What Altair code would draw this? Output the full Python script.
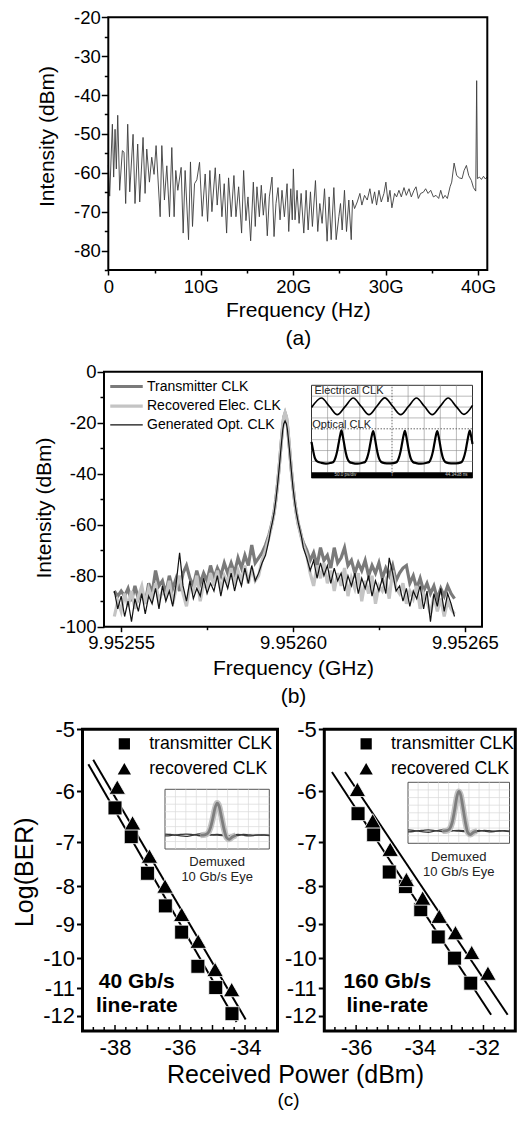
import altair as alt
import numpy as np
import pandas as pd

FONT = "Liberation Sans"

# ======================= (a) electrical spectrum =======================
a_freq_g = [
    0.00, 0.15, 0.44, 0.58, 0.73, 0.87, 1.02, 1.23, 1.52, 1.70,
    1.88, 2.10, 2.32, 2.68, 2.89, 3.18, 3.40, 3.76, 3.98, 4.16,
    4.45, 4.70, 4.95, 5.17, 5.61, 5.79, 6.07, 6.33, 6.62, 6.87,
    7.12, 7.30, 7.52, 7.88, 8.10, 8.31, 8.68, 8.89, 9.11, 9.33,
    9.58, 9.87, 10.16, 10.48, 10.74, 10.99, 11.21, 11.57, 11.78, 12.04,
    12.29, 12.54, 12.80, 13.01, 13.30, 13.59, 13.81, 14.10, 14.42, 14.64,
    14.89, 15.11, 15.40, 15.69, 15.90, 16.08, 16.34, 16.55, 16.77, 16.98,
    17.20, 17.42, 17.71, 17.93, 18.14, 18.36, 18.58, 18.79, 19.05, 19.34,
    19.52, 19.74, 19.90, 20.02, 20.20, 20.42, 20.64, 20.86, 21.15, 21.40,
    21.62, 21.87, 22.08, 22.41, 22.66, 22.88, 23.13, 23.39, 23.67, 23.89,
    24.11, 24.40, 24.65, 24.94, 25.12, 25.30, 25.55, 25.77, 26.02, 26.28,
    26.42, 26.64, 26.93, 27.22, 27.43, 27.72, 28.01, 28.30, 28.55, 28.81,
    29.02, 29.28, 29.53, 29.82, 30.03, 30.25, 30.47, 30.68, 30.97, 31.19,
    31.44, 31.70, 31.99, 32.24, 32.53, 32.78, 33.07, 33.29, 33.54, 33.79,
    34.08, 34.33, 34.59, 34.88, 35.17, 35.45, 35.74, 35.96, 36.21, 36.43,
    36.68, 36.97, 37.15, 37.41, 37.69, 37.98, 38.27, 38.49, 38.74, 38.99,
    39.28, 39.50, 39.75, 39.85, 39.93, 40.15, 40.37, 40.59, 40.80, 41.00,
]
a_intensity_dbm = [
    -58.0, -66.0, -47.5, -61.1, -48.8, -59.0, -45.2, -64.5, -54.3, -54.7,
    -67.9, -47.5, -64.9, -50.1, -67.9, -52.6, -67.5, -50.9, -65.3, -53.9,
    -62.4, -56.0, -60.4, -53.0, -71.3, -53.0, -67.0, -58.2, -71.3, -53.5,
    -71.3, -59.4, -64.5, -58.6, -75.5, -59.4, -77.2, -57.2, -73.8, -62.8,
    -61.8, -57.3, -71.2, -60.3, -72.5, -59.4, -70.0, -58.7, -68.3, -60.3,
    -71.3, -62.8, -75.5, -61.3, -71.3, -60.7, -71.3, -63.6, -75.5, -59.4,
    -72.3, -66.2, -77.5, -62.4, -73.8, -63.6, -71.3, -63.2, -70.9, -65.3,
    -76.2, -66.2, -61.1, -76.4, -67.9, -63.8, -72.1, -64.5, -71.3, -62.8,
    -75.1, -64.1, -72.1, -59.0, -72.1, -64.5, -73.0, -65.3, -75.5, -64.5,
    -74.7, -64.9, -73.8, -62.0, -75.1, -67.9, -73.0, -64.1, -77.6, -66.2,
    -77.2, -63.8, -77.2, -71.3, -67.9, -74.7, -64.5, -75.1, -67.0, -77.2,
    -67.0, -69.2, -67.5, -65.3, -68.3, -65.8, -67.0, -64.1, -67.9, -64.9,
    -68.3, -64.5, -67.5, -65.3, -62.4, -67.5, -64.5, -69.0, -65.3, -66.2,
    -64.5, -66.2, -63.8, -65.8, -64.1, -66.2, -64.5, -63.6, -66.6, -65.3,
    -65.0, -64.1, -65.3, -64.5, -66.2, -65.8, -66.6, -64.5, -66.6, -65.8,
    -66.6, -63.6, -62.4, -57.5, -60.7, -61.3, -61.5, -59.4, -58.1, -60.7,
    -62.0, -63.8, -64.7, -36.3, -61.5, -61.1, -61.7, -60.9, -61.6, -61.0,
]

# ======================= (b) clock spectra =======================
b_center_ghz = 9.95255
b_offset_khz = (list(range(-2, 44))
                + [43.5, 44, 44.5, 45, 45.5, 46, 46.5, 47, 47.3, 47.7,
                   48.1, 48.4, 49, 49.5, 50, 50.5, 51, 51.5, 52, 52.5]
                + list(range(53, 98)))
b_series = ["Transmitter CLK", "Recovered Elec. CLK", "Generated Opt. CLK"]
b_transmitter = (
    [-86, -88, -86, -88, -85, -90, -84, -89, -86, -91, -83, -87, -78, -84, -82, -87,
     -80, -85, -81, -86, -79, -76, -81, -84, -78, -83, -79, -82, -76, -81, -77, -80,
     -75, -79, -75, -79, -73, -77, -72, -76, -68, -75, -73, -71, -68, -64]
    + [-61.5, -58.5, -55, -50, -44, -37, -29, -21.5, -18, -16.3,
       -18, -21.5, -30.5, -38.5, -45, -51, -55.5, -59.5, -62, -65]
    + [-67, -70, -74, -71, -76, -69, -74, -72, -77, -69, -75, -73, -69, -76, -74, -79,
       -75, -78, -74, -80, -76, -79, -75, -81, -77, -80, -76, -82, -79, -77, -76, -83,
       -80, -85, -81, -86, -83, -87, -84, -89, -85, -88, -84, -87, -89]
)
b_recovered = (
    [-96, -90, -94, -87, -92, -86, -93, -88, -84, -91, -85, -89, -83, -90, -86, -88,
     -82, -91, -85, -80, -87, -92, -84, -86, -80, -90, -83, -85, -79, -84, -78, -86,
     -80, -83, -77, -84, -78, -82, -76, -83, -77, -82, -80, -74, -70, -65]
    + [-62, -59, -55.5, -50.5, -44.5, -37, -29, -21, -17.8, -16,
       -17.8, -21, -30, -38, -45, -51, -56, -60, -62.5, -65.5]
    + [-68, -72, -79, -84, -76, -81, -75, -83, -78, -86, -79, -84, -77, -88, -81, -85,
       -79, -90, -82, -87, -80, -91, -84, -86, -82, -89, -78, -85, -87, -83, -91, -86,
       -89, -84, -93, -87, -90, -95, -88, -94, -89, -96, -90, -93, -95]
)
b_generated = (
    [-86, -93, -88, -96, -90, -98, -89, -94, -87, -95, -88, -91, -85, -93, -84, -90,
     -86, -92, -83, -71, -84, -90, -82, -89, -85, -88, -81, -87, -83, -86, -80, -88,
     -81, -85, -79, -86, -80, -84, -77, -83, -76, -82, -79, -75, -72, -66]
    + [-62, -59, -55.5, -50.5, -44.5, -37.5, -30, -23, -20.5, -19.3,
       -20.5, -23, -31, -38.5, -45.5, -51, -55.5, -59, -62, -65]
    + [-69, -73, -78, -74, -81, -75, -80, -76, -83, -77, -82, -79, -86, -80, -84, -79,
       -87, -81, -85, -80, -88, -82, -86, -81, -87, -73, -79, -86, -84, -90, -85, -92,
       -86, -89, -84, -93, -86, -98, -87, -92, -85, -94, -87, -91, -96]
)

# oscilloscope inset (time / level in screen divisions)
scope_sine_t = [0, 0.62, 1.11, 1.6, 2.1, 2.59, 3.08, 3.57, 4.06, 4.55, 5.04,
                5.54, 6.03, 6.52, 7.01, 7.5, 7.99, 8.49, 8.98, 9.47, 10]
scope_sine_v = [5.95, 6.83, 6.07, 5.3, 6.07, 6.83, 6.07, 5.3, 6.07, 6.85, 6.07,
                5.3, 6.07, 6.83, 6.07, 5.3, 6.07, 6.83, 6.07, 5.32, 6.15]
scope_pulse_t = [0, 0.1, 0.2, 0.35, 0.6, 0.9,
                 1.16, 1.36, 1.49, 1.59, 1.69, 1.78, 1.86, 1.94, 2.03, 2.13, 2.23, 2.36, 2.56, 2.85,
                 3.13, 3.33, 3.46, 3.56, 3.66, 3.75, 3.83, 3.91, 4.0, 4.1, 4.2, 4.33, 4.53, 4.82,
                 5.1, 5.3, 5.43, 5.53, 5.63, 5.72, 5.8, 5.88, 5.97, 6.07, 6.17, 6.3, 6.5, 6.8,
                 7.11, 7.31, 7.44, 7.54, 7.64, 7.73, 7.81, 7.89, 7.98, 8.08, 8.18, 8.31, 8.51, 8.82,
                 9.13, 9.33, 9.46, 9.56, 9.66, 9.75, 9.83, 9.91, 10.0]
scope_pulse_v = [2.8, 2.0, 1.35, 1.0, 0.88, 0.8,
                 0.85, 0.95, 1.35, 1.9, 2.7, 3.4, 3.85, 3.35, 2.6, 1.8, 1.25, 0.95, 0.85, 0.8,
                 0.86, 0.95, 1.35, 1.9, 2.7, 3.4, 3.8, 3.35, 2.6, 1.8, 1.25, 0.95, 0.85, 0.82,
                 0.85, 0.95, 1.35, 1.9, 2.7, 3.4, 3.82, 3.35, 2.6, 1.8, 1.25, 0.95, 0.85, 0.8,
                 0.86, 0.95, 1.35, 1.9, 2.7, 3.4, 3.8, 3.35, 2.6, 1.8, 1.25, 0.95, 0.85, 0.82,
                 0.85, 0.95, 1.35, 1.9, 2.7, 3.4, 3.83, 3.35, 2.6]

# ======================= (c) BER curves =======================
c40_tx_p = [-38.0, -37.5, -37.0, -36.45, -35.95, -35.45, -34.9, -34.4]
c40_tx_ber = [-6.31, -6.88, -7.69, -8.5, -9.22, -10.26, -10.97, -11.92]
c40_rx_p = [-37.93, -37.46, -36.94, -36.46, -35.95, -35.44, -34.92, -34.41]
c40_rx_ber = [-5.94, -6.61, -7.31, -8.01, -8.74, -9.5, -10.38, -11.06]
c40_fit_tx_p = [-38.82, -34.26]
c40_fit_tx_ber = [-5.54, -12.24]
c40_fit_rx_p = [-38.67, -33.98]
c40_fit_rx_ber = [-5.47, -12.14]

c160_tx_p = [-35.94, -35.45, -34.96, -34.45, -33.97, -33.42, -32.91, -32.4]
c160_tx_ber = [-6.42, -6.84, -7.66, -8.01, -8.6, -9.36, -10.0, -10.82]
c160_rx_p = [-35.96, -35.48, -34.93, -34.42, -33.91, -33.39, -32.88, -32.37, -31.86]
c160_rx_ber = [-5.98, -6.57, -7.16, -7.85, -8.31, -8.79, -9.25, -9.84, -10.5]
c160_fit_tx_p = [-36.76, -31.76]
c160_fit_tx_ber = [-5.67, -11.96]
c160_fit_rx_p = [-36.35, -31.24]
c160_fit_rx_ber = [-5.67, -11.96]

c_series = ["transmitter CLK", "recovered CLK"]
c_yticks = [-5, -6, -7, -8, -9, -10, -11, -12]

# eye-diagram insets (time / level in divisions)
eye_u = [0, 0.5, 1, 1.5, 2, 2.5, 3, 3.5, 4, 4.5, 5, 5.5, 6, 6.5, 7, 7.5, 8, 8.5, 9, 9.5, 10]
eye40_base1 = [1.75, 1.8, 1.9, 1.95, 2.0, 1.95, 1.85, 1.75, 1.8, 1.9, 1.95, 1.9, 1.8, 1.75, 1.8, 1.95, 1.9, 1.85, 1.85, 1.9, 1.85]
eye40_base2 = [2.0, 1.95, 1.85, 1.75, 1.7, 1.8, 1.95, 2.05, 2.0, 1.9, 1.85, 1.8, 1.75, 1.85, 1.95, 1.85, 1.75, 1.8, 1.9, 1.85, 1.8]
eye160_base1 = [1.5, 1.55, 1.65, 1.7, 1.75, 1.7, 1.6, 1.5, 1.55, 1.65, 1.7, 1.65, 1.55, 1.5, 1.55, 1.7, 1.65, 1.6, 1.6, 1.65, 1.6]
eye160_base2 = [1.75, 1.7, 1.6, 1.5, 1.45, 1.55, 1.7, 1.8, 1.75, 1.65, 1.6, 1.55, 1.5, 1.6, 1.7, 1.6, 1.5, 1.55, 1.65, 1.6, 1.55]
eye_pulse_u = [3.4, 3.8, 4.1, 4.35, 4.6, 4.8, 5.0, 5.2, 5.4, 5.65, 5.9, 6.15, 6.45, 6.8]
eye40_pulse = [1.85, 1.9, 2.1, 2.8, 4.2, 5.5, 6.15, 5.7, 4.4, 2.7, 1.55, 1.3, 1.6, 1.85]
eye160_pulse = [1.6, 1.65, 1.9, 2.7, 4.4, 6.0, 6.8, 6.3, 4.8, 2.8, 1.4, 1.15, 1.45, 1.6]

SQUARE = "M-0.95,-0.95L0.95,-0.95L0.95,0.95L-0.95,0.95Z"
TRIANGLE = "M0,-1.05L1.12,0.9L-1.12,0.9Z"

# ---------------- canvas geometry (pixels inside the drawing area) ----------------
VW, VH = 509, 1102
A_X, A_Y = [100.3, 479.3], [262.0, 9.3]
B_X, B_Y = [96.0, 474.0], [618.7, 363.7]
CS1, CS2 = 0, -4  # small left shift of the right (c) panel so that it fits the page width
C1_X = [74.5 + CS1, 269.5 + CS1]
C2_X = [320.3 + CS2, 511.3 + CS2]
C_Y = [1023.0, 721.3]


def axis(**kw):
    base = dict(domain=False, grid=False, labelFont=FONT, titleFont=FONT,
                labelColor="black", titleColor="black", tickColor="black",
                titleFontWeight="normal", labelFlush=False, labelOverlap=False)
    base.update(kw)
    return alt.Axis(**base)


def enc(ch, field, scale, ax):
    cls = alt.X if ch == "x" else alt.Y
    return cls(field, type="quantitative", scale=scale, axis=ax)


def frame(xdom, ydom, sx, sy, ax_x, ax_y, width):
    df = pd.DataFrame({"fx0": [xdom[0]], "fx1": [xdom[1]], "fy0": [ydom[0]], "fy1": [ydom[1]]})
    return (alt.Chart(df).mark_rect(fillOpacity=0, stroke="black", strokeWidth=width)
            .encode(x=enc("x", "fx0", sx, ax_x), x2="fx1", y=enc("y", "fy0", sy, ax_y), y2="fy1"))


# ---------------- panel (a) ----------------
dfa = pd.DataFrame({"f": a_freq_g, "db": a_intensity_dbm})
sxa = alt.Scale(domain=[0, 41], range=A_X, nice=False, zero=False)
sya = alt.Scale(domain=[-85, -20], range=A_Y, nice=False, zero=False)
axa_x = axis(orient="bottom", offset=A_Y[0] - VH, values=list(range(0, 45, 5)),
             labelExpr="datum.value % 10 == 0 ? (datum.value == 0 ? '0' : datum.value + 'G') : ''",
             tickSize={"condition": {"test": "datum.value % 10 == 0", "value": 5}, "value": 3},
             tickWidth=1.5, labelFontSize=18.5, labelPadding=2,
             title=["Frequency (Hz)", "(a)"], titleFontSize=21, titleLineHeight=28, titlePadding=4)
axa_y = axis(orient="left", offset=-A_X[0], values=list(range(-85, -15, 5)),
             labelExpr="datum.value % 10 == 0 ? '' + datum.value : ''",
             tickSize={"condition": {"test": "datum.value % 10 == 0", "value": 7}, "value": 4},
             tickWidth=1.5, labelFontSize=18.5, labelPadding=1,
             title="Intensity (dBm)", titleFontSize=21, titlePadding=16, titleY=128)
panel_a = alt.layer(
    alt.Chart(dfa).mark_line(color="#3c3c3c", strokeWidth=0.9)
    .encode(x=enc("x", "f", sxa, axa_x), y=enc("y", "db", sya, axa_y)),
    frame([0, 41], [-85, -20], sxa, sya, axa_x, axa_y, 2),
)

# ---------------- panel (b) ----------------
rows = []
for name, vals in zip(b_series, [b_transmitter, b_recovered, b_generated]):
    for off, v in zip(b_offset_khz, vals):
        rows.append({"f": b_center_ghz + off * 1e-6, "db": v, "series": name})
dfb = pd.DataFrame(rows)

sxb = alt.Scale(domain=[9.952545, 9.952655], range=B_X, nice=False, zero=False)
syb = alt.Scale(domain=[-100, 0], range=B_Y, nice=False, zero=False)
major_b = "abs(datum.value*20000 - round(datum.value*20000)) < 0.01"
axb_x = axis(orient="bottom", offset=B_Y[0] - VH,
             values=[9.95255, 9.952575, 9.9526, 9.952625, 9.95265],
             labelExpr="(" + major_b + ") ? format(datum.value, '.5f') : ''",
             tickSize={"condition": {"test": major_b, "value": 5}, "value": 3},
             tickWidth=1.5, labelFontSize=18.5, labelPadding=2,
             title=["Frequency (GHz)", "(b)"], titleFontSize=21, titleLineHeight=28, titlePadding=5)
axb_y = axis(orient="left", offset=-B_X[0], values=list(range(-100, 5, 10)),
             labelExpr="datum.value % 20 == 0 ? '' + datum.value : ''",
             tickSize={"condition": {"test": "datum.value % 20 == 0", "value": 7}, "value": 4},
             tickWidth=1.5, labelFontSize=18.5, labelPadding=1,
             title="Intensity (dBm)", titleFontSize=21, titlePadding=4, titleY=499.5)
legend_b = alt.Legend(orient="none", legendX=110, legendY=370, title=None,
                      symbolType="M-2.5,0L2.5,0", symbolSize=169,
                      labelFontSize=14, labelOffset=12, rowPadding=3.7,
                      padding=0, labelColor="black", labelFont=FONT)
color_b = alt.Color("series:N", scale=alt.Scale(domain=b_series, range=["#7a7a7a", "#c4c4c4", "#111111"]),
                    legend=legend_b)
sw_b = alt.StrokeWidth("series:N", scale=alt.Scale(type="ordinal", domain=b_series, range=[3.2, 3.2, 1.2]),
                       legend=legend_b)
panel_b = alt.layer(
    *[alt.Chart(dfb).transform_filter(alt.datum.series == name)
      .mark_line().encode(x=enc("x", "f", sxb, axb_x), y=enc("y", "db", syb, axb_y),
                          color=color_b, strokeWidth=sw_b)
      for name in b_series],
    frame([9.952545, 9.952655], [-100, 0], sxb, syb, axb_x, axb_y, 2),
)

# oscilloscope inset
sx_s = alt.Scale(domain=[0, 10], range=[303.5, 464.5], nice=False, zero=False)
sy_s = alt.Scale(domain=[0, 8], range=[464.3, 377.3], nice=False, zero=False)


def sx(f):
    return enc("x", f, sx_s, None)


def sy(f):
    return enc("y", f, sy_s, None)


scope_box = pd.DataFrame({"x0": [0], "x1": [10], "y0": [-0.52], "y1": [8]})
scope_bar = pd.DataFrame({"x0": [0], "x1": [10], "y0": [-0.52], "y1": [0]})
gv = pd.DataFrame({"t": [1, 2, 3, 4, 6, 7, 8, 9], "y0": 0, "y1": 8})
gh = pd.DataFrame({"v": [1, 2, 3, 5, 6, 7], "x0": 0, "x1": 10})
gvc = pd.DataFrame({"t": [5], "y0": [0], "y1": [8]})
ghc = pd.DataFrame({"v": [4], "x0": [0], "x1": [10]})
sine_df = pd.DataFrame({"t": scope_sine_t, "v": scope_sine_v})
pulse_df = pd.DataFrame({"t": scope_pulse_t, "v": scope_pulse_v})
scope_lbl = pd.DataFrame({"t": [0.18, 0.05], "v": [7.5, 4.35], "label": ["Electrical CLK", "Optical CLK"]})
bar_lbl = pd.DataFrame({"t": [2.1, 5.0, 9.0], "v": [-0.26, -0.26, -0.26],
                        "label": ["50.0 ps/div", "T", "44.3438 ns"]})

scope = alt.layer(
    alt.Chart(scope_box).mark_rect(fill="white", stroke="#333", strokeWidth=1)
    .encode(x=sx("x0"), x2="x1", y=sy("y0"), y2="y1"),
    alt.Chart(gv).mark_rule(color="#8c8c8c", strokeWidth=0.6).encode(x=sx("t"), y=sy("y0"), y2="y1"),
    alt.Chart(gh).mark_rule(color="#8c8c8c", strokeWidth=0.6).encode(y=sy("v"), x=sx("x0"), x2="x1"),
    alt.Chart(gvc).mark_rule(color="#444", strokeWidth=0.8, strokeDash=[1.5, 1.5])
    .encode(x=sx("t"), y=sy("y0"), y2="y1"),
    alt.Chart(ghc).mark_rule(color="#444", strokeWidth=0.8, strokeDash=[1.5, 1.5])
    .encode(y=sy("v"), x=sx("x0"), x2="x1"),
    alt.Chart(sine_df).mark_line(color="black", strokeWidth=1.7, interpolate="monotone")
    .encode(x=sx("t"), y=sy("v")),
    alt.Chart(pulse_df).mark_line(color="black", strokeWidth=2.2, interpolate="monotone")
    .encode(x=sx("t"), y=sy("v")),
    alt.Chart(scope_lbl).mark_text(align="left", baseline="middle", fontSize=11, font=FONT, color="#222")
    .encode(x=sx("t"), y=sy("v"), text="label:N"),
    alt.Chart(scope_bar).mark_rect(fill="black").encode(x=sx("x0"), x2="x1", y=sy("y0"), y2="y1"),
    alt.Chart(bar_lbl).mark_text(align="center", baseline="middle", fontSize=4.5, font=FONT, color="#ccc")
    .encode(x=sx("t"), y=sy("v"), text="label:N"),
)


# ---------------- panel (c) ----------------
def ber_panel(tx_p, tx_b, rx_p, rx_b, ftx_p, ftx_b, frx_p, frx_b, xdom, xr, xlab,
              rate_label, rate_x, first):
    pts = pd.DataFrame({
        "p": tx_p + rx_p, "ber": tx_b + rx_b,
        "series": [c_series[0]] * len(tx_p) + [c_series[1]] * len(rx_p)})
    fits = pd.DataFrame({"p": ftx_p + frx_p, "ber": ftx_b + frx_b,
                         "fit": ["tx", "tx", "rx", "rx"]})
    tick_pos = np.round(np.arange(xdom[0] + 1 / 3, xdom[1] - 0.1, 1 / 3), 4)
    ticks = pd.DataFrame({"p": tick_pos})
    ticks["major"] = np.abs(ticks["p"] - np.round(ticks["p"])) < 1e-3

    scx = alt.Scale(domain=xdom, range=xr, nice=False, zero=False)
    scy = alt.Scale(type="pow", exponent=-0.1, domain=[-12.6, -5], range=C_Y, nice=False, zero=False)
    xkw = dict(orient="bottom", offset=C_Y[0] - VH, values=xlab, labelExpr="'' + datum.value",
               ticks=False, tickSize=0, labelFontSize=22, labelPadding=6,
               titleBaseline="middle", titleAlign="center")
    ykw = dict(orient="left", offset=-xr[0], values=c_yticks, labelExpr="'' + datum.value",
               tickSize=6, tickWidth=2, labelFontSize=22, labelPadding=2)
    if first:
        xkw.update(title="Received Power (dBm)", titleFontSize=25, titleX=287, titleY=43)
        ykw.update(title="Log(BER)", titleFontSize=25, titlePadding=5, titleY=863.7)
    else:
        xkw.update(title="(c)", titleFontSize=19, titleX=280, titleY=68.5)
        ykw.update(title=None)
    axx = axis(**xkw)
    axy = axis(**ykw)

    legend_c = alt.Legend(orient="none", legendX=xr[0] + 33.0, legendY=727, title=None,
                          labelFontSize=17.7, symbolSize=140, symbolFillColor="black",
                          symbolStrokeWidth=0, labelOffset=16.0, rowPadding=6.3, padding=0,
                          labelColor="black", labelFont=FONT)
    rate = pd.DataFrame({"p": [rate_x, rate_x], "ber": [-10.78, -11.65],
                         "label": [rate_label, "line-rate"]})
    H0 = C_Y[0]
    return alt.layer(
        alt.Chart(ticks[~ticks["major"]]).mark_rule(color="black", strokeWidth=1.5)
        .encode(x=enc("x", "p", scx, axx), y=alt.value(H0), y2=alt.value(H0 - 4)),
        alt.Chart(ticks[ticks["major"]]).mark_rule(color="black", strokeWidth=1.5)
        .encode(x=enc("x", "p", scx, axx), y=alt.value(H0), y2=alt.value(H0 - 6)),
        alt.Chart(fits).mark_line(color="black", strokeWidth=2)
        .encode(x=enc("x", "p", scx, axx), y=enc("y", "ber", scy, axy), detail="fit:N"),
        alt.Chart(pts).mark_point(filled=True, size=215, opacity=1, color="black",
                                  stroke="white", strokeWidth=0.8)
        .encode(x=enc("x", "p", scx, axx), y=enc("y", "ber", scy, axy),
                shape=alt.Shape("series:N", scale=alt.Scale(domain=c_series,
                                                            range=[SQUARE, TRIANGLE]),
                                legend=legend_c)),
        alt.Chart(rate).mark_text(fontWeight="bold", fontSize=21, font=FONT, color="black",
                                  align="center", baseline="middle")
        .encode(x=enc("x", "p", scx, axx), y=enc("y", "ber", scy, axy), text="label:N"),
        frame(xdom, [-12.6, -5], scx, scy, axx, axy, 3),
    )


def eye_inset(xr, yr, base1, base2, pulse):
    sxe = alt.Scale(domain=[0, 10], range=xr, nice=False, zero=False)
    sye = alt.Scale(domain=[0, 8], range=yr, nice=False, zero=False)

    def ex(f):
        return enc("x", f, sxe, None)

    def ey(f):
        return enc("y", f, sye, None)

    box = pd.DataFrame({"x0": [0], "x1": [10], "y0": [0], "y1": [8]})
    gvv = pd.DataFrame({"u": list(range(1, 10)), "y0": 0, "y1": 8})
    ghh = pd.DataFrame({"w": list(range(1, 8)), "x0": 0, "x1": 10})
    base_df = pd.DataFrame({"u": eye_u + eye_u, "w": base1 + base2,
                            "tr": ["a"] * len(eye_u) + ["b"] * len(eye_u)})
    pulse_df_c = pd.DataFrame({"u": eye_pulse_u, "w": pulse})
    txt = pd.DataFrame({"u": [5, 5], "w": [-1.75, -3.72], "label": ["Demuxed", "10 Gb/s Eye"]})
    return alt.layer(
        alt.Chart(box).mark_rect(fill="white", stroke="#555", strokeWidth=1)
        .encode(x=ex("x0"), x2="x1", y=ey("y0"), y2="y1"),
        alt.Chart(gvv).mark_rule(color="#dadada", strokeWidth=0.7).encode(x=ex("u"), y=ey("y0"), y2="y1"),
        alt.Chart(ghh).mark_rule(color="#dadada", strokeWidth=0.7).encode(y=ey("w"), x=ex("x0"), x2="x1"),
        alt.Chart(base_df).mark_line(color="#3a3a3a", strokeWidth=1.3, interpolate="monotone")
        .encode(x=ex("u"), y=ey("w"), detail="tr:N"),
        alt.Chart(pulse_df_c).mark_line(color="#c2c2c2", strokeWidth=6, interpolate="monotone")
        .encode(x=ex("u"), y=ey("w")),
        alt.Chart(pulse_df_c).mark_line(color="#7e7e7e", strokeWidth=2.8, interpolate="monotone")
        .encode(x=ex("u"), y=ey("w")),
        alt.Chart(txt).mark_text(fontSize=13, font=FONT, color="#222", align="center", baseline="middle")
        .encode(x=ex("u"), y=ey("w"), text="label:N"),
    )


panel_c1 = ber_panel(c40_tx_p, c40_tx_ber, c40_rx_p, c40_rx_ber,
                     c40_fit_tx_p, c40_fit_tx_ber, c40_fit_rx_p, c40_fit_rx_ber,
                     [-39, -33], C1_X, [-38, -36, -34], "40 Gb/s", -37.33, True)
panel_c2 = ber_panel(c160_tx_p, c160_tx_ber, c160_rx_p, c160_rx_ber,
                     c160_fit_tx_p, c160_fit_tx_ber, c160_fit_rx_p, c160_fit_rx_ber,
                     [-37, -31], C2_X, [-36, -34, -32], "160 Gb/s", -35.02, False)
eye1 = eye_inset([157 + CS1, 261.3 + CS1], [841, 781.3], eye40_base1, eye40_base2, eye40_pulse)
eye2 = eye_inset([404 + CS2, 505.5 + CS2], [835.3, 774.3], eye160_base1, eye160_base2, eye160_pulse)

chart = (alt.layer(panel_a, panel_b, scope, panel_c1, eye1, panel_c2, eye2)
         .resolve_scale(x="independent", y="independent", color="independent",
                        strokeWidth="independent", shape="independent")
         .properties(width=VW, height=VH, padding=0,
                     autosize=alt.AutoSizeParams(type="none"))
         .configure(background="white")
         .configure_view(strokeWidth=0)
         .configure_axis(labelFont=FONT, titleFont=FONT)
         .configure_text(font=FONT)
         .configure_legend(labelFont=FONT))

chart.save("out.html", embed_options={"renderer": "svg", "actions": False})
